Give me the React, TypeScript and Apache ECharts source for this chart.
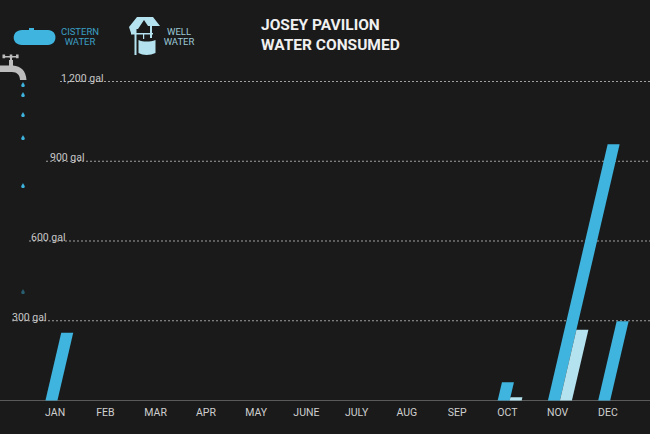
import React, { useEffect, useRef } from "react";
import * as echarts from "echarts";

const months = ["JAN", "FEB", "MAR", "APR", "MAY", "JUNE", "JULY", "AUG", "SEP", "OCT", "NOV", "DEC"];
const cistern = [255, 0, 0, 0, 0, 0, 0, 0, 0, 69, 964, 298];
const well = [0, 0, 0, 0, 0, 0, 0, 0, 0, 12, 266, 0];
const yTicks = [300, 600, 900, 1200];
const yTickLabels = ["300 gal", "600 gal", "900 gal", "1,200 gal"];
const yTickStarts = [12, 29, 46, 60];
const yTickLabelStarts = [12, 31, 50, 61];
const dropYs = [85, 95, 115, 138, 186, 292];
const dropOpacity = [1, 1, 1, 1, 1, 0.45];

const BG = "#1a1a1a";
const BLUE = "#3eb4de";
const PALE = "#b4e2ee";
const FONT = "Roboto, sans-serif";
const SLANT = 0.233;
const BAR_W = 12;

const g = echarts.graphic as any;
g.registerShape("tank", g.extendPath("M22 30L29 30L29 28L34 28L34 30L48 30C58 30 58 45 48 45L22 45C11 45 11 30 22 30Z", {}));
g.registerShape(
  "faucetBody",
  g.extendPath(
    "M0 65.5L9 65.5L9 60L13 60L13 65.5C21 66 26 71 26.5 80L20 80C20 75 17 72 12 72L0 72Z" +
      "M3 56H18V57.4H3Z M10 56H12V61H10Z M2.5 54.6H5.1V58.2H2.5Z M9.7 54.6H12.3V58.2H9.7Z M16 54.6H18.6V58.2H16Z",
    {}
  )
);
g.registerShape("drop", g.extendPath("M0 -3C0.8 -1.2 1.8 -0.4 1.8 0.8C1.8 2.4 -1.8 2.4 -1.8 0.8C-1.8 -0.4 -0.8 -1.2 0 -3Z", {}));
g.registerShape(
  "wellRoof",
  g.extendPath(
    "M129 27L137 17L153 17L160 26L148 26L144 20L138 29L135 29L135 33L131 33Z" +
      "M134.5 27H136.5V55H134.5Z M150 26H152V38H150Z M131 33H153V34.6H131Z M143 33H144.2V39H143Z",
    {}
  )
);
g.registerShape("wellBucket", g.extendPath("M138.5 40C143 42 150 42 155.5 40L155.5 53C150 55.5 143 55.5 138.5 53Z", {}));

function slantedBars(values: number[], offset: number, color: string) {
  return {
    type: "custom",
    data: values.map((v, i) => [i, v]),
    encode: { x: 0, y: 1 },
    z: 3,
    renderItem(_: any, api: any) {
      const value = api.value(1);
      if (!value) return null;
      const base = api.coord([api.value(0), 0]);
      const top = api.coord([api.value(0), value]);
      const left = base[0] + offset;
      const shift = (base[1] - top[1]) * SLANT;
      return {
        type: "polygon",
        shape: {
          points: [
            [left, base[1]],
            [left + BAR_W, base[1]],
            [left + BAR_W + shift, top[1]],
            [left + shift, top[1]],
          ],
        },
        style: { fill: color },
      };
    },
  };
}

export default function App() {
  const ref = useRef<HTMLDivElement>(null);
  useEffect(() => {
    document.body.style.margin = "0";
    document.body.style.background = BG;
    const chart = echarts.init(ref.current!, null, { renderer: "svg" });
    const legendText = (text: string, x: number, y: number, fill: string) => ({
      type: "text",
      x,
      y,
      style: { text, fill, font: `400 9.5px ${FONT}`, align: "center", verticalAlign: "middle" },
    });
    chart.setOption({
      animation: false,
      backgroundColor: BG,
      grid: { left: 30, width: 603, top: 81.5, bottom: 33.5 },
      xAxis: {
        type: "category",
        data: months,
        axisLine: { show: false },
        axisTick: { show: false },
        axisLabel: { color: "#cfcfcf", fontFamily: FONT, fontSize: 10.5, margin: 6, interval: 0 },
      },
      yAxis: {
        type: "value",
        min: 0,
        max: 1200,
        interval: 300,
        axisLine: { show: false },
        axisTick: { show: false },
        axisLabel: { show: false },
        splitLine: { show: false },
      },
      series: [
        {
          type: "custom",
          data: yTicks.map((v, i) => [0, v, i]),
          encode: { x: 0, y: 1 },
          z: 2,
          renderItem(_: any, api: any) {
            const i = api.value(2);
            const y = api.coord([0, api.value(1)])[1];
            return {
              type: "group",
              children: [
                {
                  type: "line",
                  shape: { x1: yTickStarts[i], y1: y, x2: 650, y2: y },
                  style: { stroke: "#a0a0a0", lineWidth: 1, lineDash: [2, 2] },
                },
                {
                  type: "text",
                  x: yTickLabelStarts[i],
                  y: y - 3.5,
                  style: {
                    text: yTickLabels[i],
                    fill: "#c8c8c8",
                    font: `400 10.5px ${FONT}`,
                    align: "left",
                    verticalAlign: "middle",
                  },
                },
              ],
            };
          },
        },
        slantedBars(cistern, -9.7, BLUE),
        slantedBars(well, 2.3, PALE),
      ],
      graphic: [
        { type: "line", z: 1, shape: { x1: 0, y1: 400.5, x2: 650, y2: 400.5 }, style: { stroke: "#5a5a5a", lineWidth: 1.2 } },
        { type: "tank", style: { fill: BLUE } },
        legendText("CISTERN", 80, 31, "#3a9fc4"),
        legendText("WATER", 80, 41.5, "#3a9fc4"),
        { type: "wellRoof", style: { fill: PALE } },
        { type: "wellBucket", style: { fill: PALE } },
        legendText("WELL", 179, 31, "#9cc9d5"),
        legendText("WATER", 179, 41.5, "#9cc9d5"),
        { type: "faucetBody", style: { fill: "#bdbdbd" } },
        ...dropYs.map((y, i) => ({
          type: "drop",
          x: 23,
          y,
          style: { fill: BLUE, opacity: dropOpacity[i] },
        })),
        { type: "text", x: 261, y: 25, style: { text: "JOSEY PAVILION", fill: "#f0f0f0", font: `700 15.5px ${FONT}`, align: "left", verticalAlign: "middle" } },
        { type: "text", x: 261, y: 45, style: { text: "WATER CONSUMED", fill: "#f0f0f0", font: `700 15.5px ${FONT}`, align: "left", verticalAlign: "middle" } },
      ],
    });
    return () => chart.dispose();
  }, []);
  return <div ref={ref} style={{ width: 650, height: 434 }} />;
}
